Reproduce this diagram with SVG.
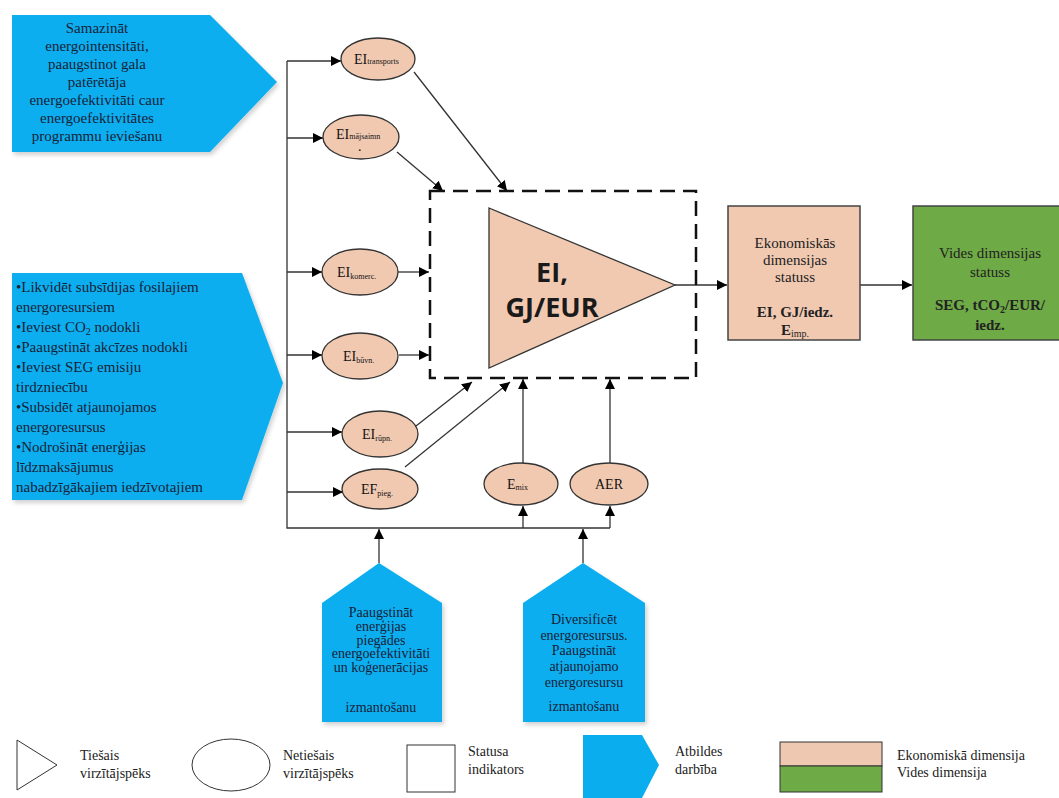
<svg xmlns="http://www.w3.org/2000/svg" width="1059" height="798" viewBox="0 0 1059 798">
<defs>
<marker id="ah" viewBox="0 0 10 10" refX="10" refY="5" markerWidth="10" markerHeight="10" markerUnits="userSpaceOnUse" orient="auto">
<path d="M0,0 L10,5 L0,10 z" fill="#000"/>
</marker>
<filter id="sh" x="-5%" y="-5%" width="115%" height="115%">
<feDropShadow dx="2" dy="3" stdDeviation="2" flood-color="#000" flood-opacity="0.18"/>
</filter>
</defs>
<style>
.blue{fill:#0AAEEF;filter:url(#sh)}
.bt{font-family:"Liberation Serif",serif;font-size:15px;fill:#152238}
.bts{font-family:"Liberation Serif",serif;font-size:14px;fill:#152238}
.el{fill:#F1C9B1;stroke:#333;stroke-width:1.3}
.et{font-family:"Liberation Serif",serif;font-size:14px;fill:#111}
.sub{font-size:8px}
.ln{stroke:#333;stroke-width:1.3;fill:none}
.ar{stroke:#333;stroke-width:1.3;fill:none;marker-end:url(#ah)}
.box{stroke:#444;stroke-width:1.5}
.t{font-family:"Liberation Serif",serif;font-size:15px;fill:#222;text-anchor:middle}
.lg{font-family:"Liberation Serif",serif;font-size:14px;fill:#222}
</style>

<g id="action-top">
<polygon class="blue" points="12,15 210,15 277,82 210,152 12,152"/>
<text class="bt" text-anchor="middle" x="97"><tspan x="97" y="33">Samazināt</tspan><tspan x="97" y="51">energointensitāti,</tspan><tspan x="97" y="69">paaugstinot gala</tspan><tspan x="97" y="87">patērētāja</tspan><tspan x="97" y="105">energoefektivitāti caur</tspan><tspan x="97" y="123">energoefektivitātes</tspan><tspan x="97" y="141">programmu ieviešanu</tspan></text>
</g>

<g id="action-left">
<polygon class="blue" points="12,273 242,273 283,383 242,500 12,500"/>
<text class="bt"><tspan x="16" y="292">•Likvidēt subsīdijas fosilajiem</tspan><tspan x="16" y="312">energoresursiem</tspan><tspan x="16" y="332">•Ieviest CO<tspan font-size="10" dy="3">2</tspan><tspan dy="-3"> nodokli</tspan></tspan><tspan x="16" y="352">•Paaugstināt akcīzes nodokli</tspan><tspan x="16" y="372">•Ieviest SEG emisiju</tspan><tspan x="16" y="392">tirdzniecību</tspan><tspan x="16" y="412">•Subsidēt atjaunojamos</tspan><tspan x="16" y="432">energoresursus</tspan><tspan x="16" y="452">•Nodrošināt enerģijas</tspan><tspan x="16" y="472">līdzmaksājumus</tspan><tspan x="16" y="492">nabadzīgākajiem iedzīvotajiem</tspan></text>
</g>

<g id="action-bottom1">
<polygon class="blue" points="379,563 442,603 442,722 322,722 322,603"/>
<text class="bts" text-anchor="middle"><tspan x="381" y="617">Paaugstināt</tspan><tspan x="381" y="631">enerģijas</tspan><tspan x="381" y="645">piegādes</tspan><tspan x="381" y="658">energoefektivitāti</tspan><tspan x="381" y="672">un koģenerācijas</tspan><tspan x="381" y="712">izmantošanu</tspan></text>
</g>

<g id="action-bottom2">
<polygon class="blue" points="583,563 645,603 645,722 523,722 523,603"/>
<text class="bts" text-anchor="middle"><tspan x="584" y="624">Diversificēt</tspan><tspan x="584" y="640">energoresursus.</tspan><tspan x="584" y="655">Paaugstināt</tspan><tspan x="584" y="671">atjaunojamo</tspan><tspan x="584" y="687">energoresursu</tspan><tspan x="584" y="711">izmantošanu</tspan></text>
</g>

<g id="connectors">
<polyline class="ln" points="287,61 287,528 610,528"/>
<line class="ar" x1="287" y1="61" x2="341" y2="61"/>
<line class="ar" x1="287" y1="138" x2="323" y2="138"/>
<line class="ar" x1="287" y1="272" x2="322" y2="272"/>
<line class="ar" x1="287" y1="355" x2="322" y2="355"/>
<line class="ar" x1="287" y1="432" x2="342" y2="432"/>
<line class="ar" x1="287" y1="492" x2="343" y2="492"/>
<line class="ar" x1="398" y1="272" x2="429" y2="272"/>
<line class="ar" x1="399" y1="355" x2="429" y2="355"/>
<line class="ar" x1="414" y1="72" x2="507" y2="191"/>
<line class="ar" x1="397" y1="152" x2="443" y2="191"/>
<line class="ar" x1="416" y1="426" x2="472" y2="382"/>
<line class="ar" x1="405" y1="467" x2="510" y2="382"/>
<line class="ar" x1="523" y1="463" x2="523" y2="379"/>
<line class="ar" x1="610" y1="463" x2="610" y2="379"/>
<line class="ar" x1="523" y1="528" x2="523" y2="506"/>
<line class="ar" x1="610" y1="528" x2="610" y2="506"/>
<line class="ar" x1="379" y1="563" x2="379" y2="529"/>
<line class="ar" x1="583" y1="563" x2="583" y2="529"/>
<line class="ar" x1="675" y1="285" x2="727" y2="285"/>
<line class="ar" x1="860" y1="285" x2="912" y2="285"/>
</g>

<g id="indicator-box">
<rect x="430" y="191" width="266" height="187" fill="none" stroke="#111" stroke-width="2.5" stroke-dasharray="15 8"/>
</g>

<g id="driver-EI">
<polygon points="489,208 675,285 489,368" fill="#F1C9B1" stroke="#333" stroke-width="1.3"/>
<text font-family="'Open Sans',sans-serif" font-weight="bold" font-size="27" fill="#1a1a1a" text-anchor="middle"><tspan x="552" y="282">EI,</tspan><tspan x="552" y="317">GJ/EUR</tspan></text>
</g>

<g id="n-transports">
<ellipse class="el" cx="378" cy="59" rx="37" ry="21"/>
<text class="et" x="354" y="64">EI<tspan class="sub">transports</tspan></text>
</g>
<g id="n-majsaimn">
<ellipse class="el" cx="361" cy="137" rx="38" ry="22"/>
<text class="et" x="336" y="139">EI<tspan class="sub">mājsaimn</tspan></text>
<text class="et" x="358" y="151" font-size="8">.</text>
</g>
<g id="n-komerc">
<ellipse class="el" cx="360" cy="272" rx="38" ry="23"/>
<text class="et" x="337" y="277">EI<tspan class="sub" dy="2">komerc.</tspan></text>
</g>
<g id="n-buvn">
<ellipse class="el" cx="360" cy="356" rx="38" ry="23"/>
<text class="et" x="343" y="361">EI<tspan class="sub" dy="2">būvn.</tspan></text>
</g>
<g id="n-rupn">
<ellipse class="el" cx="380" cy="434" rx="38" ry="23"/>
<text class="et" x="362" y="439">EI<tspan class="sub" dy="2">rūpn.</tspan></text>
</g>
<g id="n-pieg">
<ellipse class="el" cx="380" cy="489" rx="38" ry="20"/>
<text class="et" x="361" y="494">EF<tspan class="sub" dy="2">pieg.</tspan></text>
</g>
<g id="n-mix">
<ellipse class="el" cx="521" cy="484" rx="37" ry="21"/>
<text class="et" x="507" y="489">E<tspan class="sub" dy="1">mix</tspan></text>
</g>
<g id="n-aer">
<ellipse class="el" cx="609" cy="484" rx="39" ry="21"/>
<text class="et" x="609" y="489" text-anchor="middle">AER</text>
</g>

<g id="status-econ">
<rect class="box" x="728" y="206" width="132" height="134" fill="#F1C9B1"/>
<text class="t"><tspan x="795" y="248">Ekonomiskās</tspan><tspan x="795" y="265">dimensijas</tspan><tspan x="795" y="282">statuss</tspan><tspan x="795" y="317" font-weight="bold">EI, GJ/iedz.</tspan><tspan x="795" y="335" font-weight="bold">E<tspan font-size="10" font-weight="normal" dy="2">imp.</tspan></tspan></text>
</g>

<g id="status-env">
<rect class="box" x="913" y="206" width="150" height="134" fill="#6EAA45"/>
<text class="t"><tspan x="990" y="258">Vides dimensijas</tspan><tspan x="990" y="277">statuss</tspan><tspan x="990" y="310" font-weight="bold">SEG, tCO<tspan font-size="10" dy="3">2</tspan><tspan dy="-3">/EUR/</tspan></tspan><tspan x="990" y="330" font-weight="bold">iedz.</tspan></text>
</g>

<g id="legend">
<polygon points="17,740 57,765 17,790" fill="#fff" stroke="#333" stroke-width="1"/>
<text class="lg"><tspan x="80" y="760">Tiešais</tspan><tspan x="80" y="778">virzītājspēks</tspan></text>
<ellipse cx="231" cy="765" rx="39" ry="26" fill="#fff" stroke="#333" stroke-width="1"/>
<text class="lg"><tspan x="283" y="760">Netiešais</tspan><tspan x="283" y="778">virzītājspēks</tspan></text>
<rect x="407" y="745" width="48" height="47" fill="#fff" stroke="#333" stroke-width="1"/>
<text class="lg"><tspan x="468" y="756">Statusa</tspan><tspan x="468" y="774">indikators</tspan></text>
<polygon points="583,735 642,735 659,765 642,798 583,798" fill="#0AAEEF"/>
<text class="lg"><tspan x="675" y="756">Atbildes</tspan><tspan x="675" y="774">darbība</tspan></text>
<rect x="780" y="742" width="102" height="24" fill="#EFC8B1" stroke="#333" stroke-width="1"/>
<rect x="780" y="766" width="102" height="26" fill="#6EAA45" stroke="#333" stroke-width="1"/>
<text class="lg"><tspan x="897" y="760">Ekonomiskā dimensija</tspan><tspan x="897" y="777">Vides dimensija</tspan></text>
</g>
</svg>
